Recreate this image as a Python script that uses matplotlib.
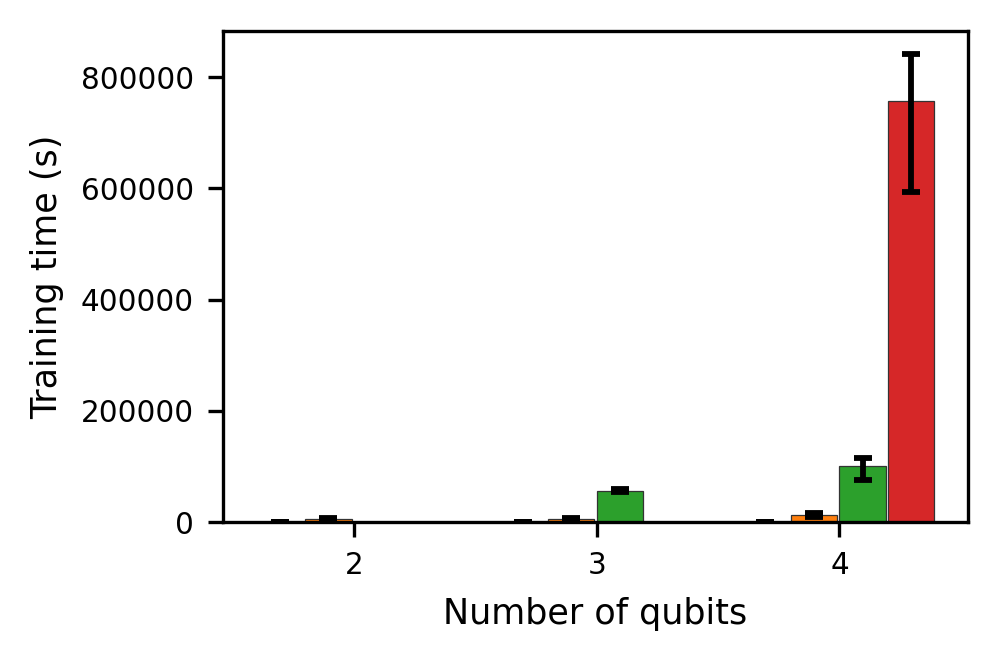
import matplotlib
matplotlib.use("Agg")
import matplotlib.pyplot as plt
import numpy as np

qubits = [2, 3, 4]
series_names = ["s1", "s2", "s3", "s4"]
colors = ["#1f77b4", "#ff7f0e", "#2ca02c", "#d62728"]

# mean training times (s); NaN = not available
blue = [150, 200, 250]
orange = [5000, 6000, 12500]
green = [np.nan, 56000, 101000]
red = [np.nan, np.nan, 757000]

blue_err_lo = [50, 50, 80]
blue_err_hi = [50, 50, 80]
orange_err_lo = [1500, 1500, 3000]
orange_err_hi = [1500, 1500, 3000]
green_err_lo = [0, 2500, 25500]
green_err_hi = [0, 2500, 13500]
red_err_lo = [0, 0, 164000]
red_err_hi = [0, 0, 84000]

values = [blue, orange, green, red]
errs_lo = [blue_err_lo, orange_err_lo, green_err_lo, red_err_lo]
errs_hi = [blue_err_hi, orange_err_hi, green_err_hi, red_err_hi]

fig = plt.figure(figsize=(999/300, 662/300), dpi=300)
ax = fig.add_axes([223/999, 1-522/662, (968-223)/999, (522-31)/662])

step = 0.2
width = 0.19
x = np.array(qubits, dtype=float)
for i, (vals, lo, hi, c) in enumerate(zip(values, errs_lo, errs_hi, colors)):
    pos = x - 0.4 + i * step
    v = np.array(vals, dtype=float)
    ax.bar(pos, v, width=width, align='edge', color=c, edgecolor='#333333', linewidth=0.3)
    mask = ~np.isnan(v)
    ax.errorbar(pos[mask] + width/2, v[mask],
                yerr=[np.array(lo)[mask], np.array(hi)[mask]],
                fmt='none', ecolor='black', elinewidth=1.4, capsize=2.2, capthick=1.4)

ax.set_xticks(qubits)
ax.set_xticklabels([str(q) for q in qubits])
ax.set_yticks([0, 200000, 400000, 600000, 800000])
ax.ticklabel_format(axis='y', style='plain')
ax.tick_params(labelsize=7.1, width=0.8, length=3.5)
ax.set_xlabel("Number of qubits", fontsize=8.4)
ax.set_ylabel("Training time (s)", fontsize=8.4)
for s in ax.spines.values():
    s.set_linewidth(0.8)

fig.savefig("out.png", dpi=300)
